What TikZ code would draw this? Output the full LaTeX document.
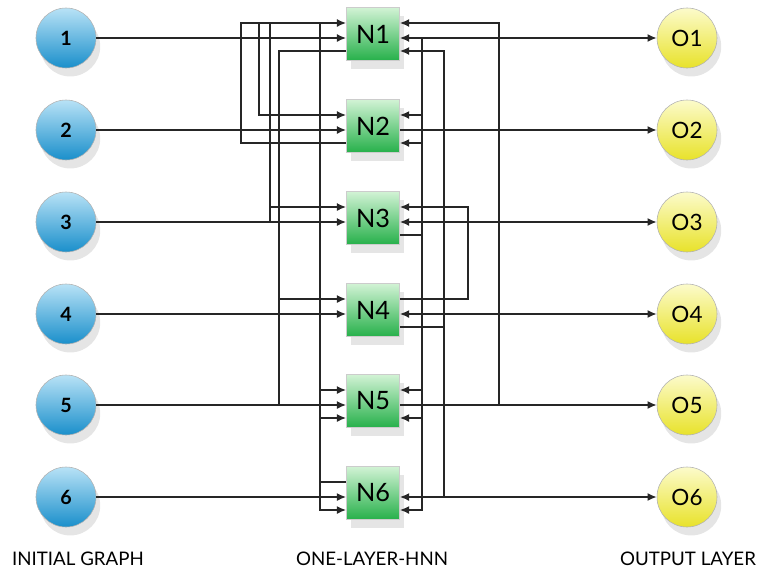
\documentclass[tikz,border=0pt]{standalone}
\usepackage{fontspec}
\setmainfont{Lato}
\usetikzlibrary{positioning,arrows.meta,calc,shadows}

\definecolor{inblue}{HTML}{1A8FCB}
\definecolor{inblueL}{HTML}{B8E2F6}
\definecolor{outyel}{HTML}{E8E22A}
\definecolor{outyelL}{HTML}{FCFBCB}
\definecolor{hidgrn}{HTML}{26B04A}
\definecolor{hidgrnL}{HTML}{D2F3D5}
\definecolor{wirec}{HTML}{262626}

\begin{document}
\begin{tikzpicture}[
  x=0.025cm, y=-0.025cm,
  softshadow/.style={drop shadow={shadow xshift=3pt, shadow yshift=-6pt, opacity=0.10, fill=black}},
  inp/.style={circle, minimum size=1.5cm, inner sep=0pt, draw=gray!60, thin,
    top color=inblueL, bottom color=inblue, softshadow,
    font=\fontsize{14}{14}\selectfont\bfseries},
  outp/.style={circle, minimum size=1.5cm, inner sep=0pt, draw=gray!60, thin,
    top color=outyelL, bottom color=outyel, softshadow,
    font=\fontsize{16}{16}\selectfont},
  hid/.style={rectangle, minimum size=1.33cm, inner sep=0pt, draw=gray!40, thin,
    top color=hidgrnL, bottom color=hidgrn, softshadow,
    font=\fontsize{18}{18}\selectfont},
  lnk/.style={line width=1.1pt, draw=wirec},
  lnkto/.style={lnk, -{Latex[length=2.3mm, width=2mm]}},
  lnkboth/.style={lnk, {Latex[length=2.3mm, width=2mm]}-{Latex[length=2.3mm, width=2mm]}},
  layername/.style={font=\fontsize{13.3}{13.3}\selectfont}
]
  \useasboundingbox (0,0) rectangle (762,573);

  % --- the three layers ---------------------------------------------------
  \foreach \i/\y in {1/38,2/130,3/222,4/314,5/405,6/497} {
    \node[inp]  (I\i) at (66,\y)    {\i};
    \node[hid]  (N\i) at (373,\y-4) {N\i};
    \node[outp] (O\i) at (687,\y)   {O\i};
    % ports above and below the main row on each side of a box
    \coordinate (N\i-lu) at ($(N\i.west)+(0,-11)$);
    \coordinate (N\i-ll) at ($(N\i.west)+(0,17)$);
    \coordinate (N\i-ru) at ($(N\i.east)+(0,-11)$);
    \coordinate (N\i-rl) at ($(N\i.east)+(0,17)$);
  }

  % --- bus columns ----------------------------------------------------------
  \coordinate (c1) at (241,0);
  \coordinate (c2) at (259,0);
  \coordinate (c3) at (270,0);
  \coordinate (c4) at (279,0);
  \coordinate (c5) at (320,0);
  \coordinate (r1) at (422,0);
  \coordinate (r2) at (444,0);
  \coordinate (r3) at (468,0);
  \coordinate (r4) at (499,0);

  % --- inputs -> hidden, hidden -> outputs ---------------------------------
  \foreach \i in {1,...,6}
    \draw[lnkto] (I\i) -- (I\i -| N\i.west);
  \foreach \i in {1,3,4,6}
    \draw[lnkboth] (O\i -| N\i.east) -- (O\i);
  \foreach \i in {2,5}
    \draw[lnkto] (O\i -| N\i.east) -- (O\i);

  % --- links on the left of the hidden layer -------------------------------
  \draw[lnkto] (N2-ll) -- (c1 |- N2-ll) -- (c1 |- N1-lu) -- (N1-lu);
  \draw[lnkto] (c2 |- N1-lu) -- (c2 |- N2-lu) -- (N2-lu);
  \draw[lnk] (c3 |- N1-lu) -- (c3 |- I3);
  \draw[lnkto] (c3 |- N3-lu) -- (N3-lu);
  \draw[lnk] (N1-ll) -- (c4 |- N1-ll) -- (c4 |- I5);
  \draw[lnkto] (c4 |- N4-lu) -- (N4-lu);
  \draw[lnkto] (c5 |- N1-lu) -- (c5 |- N6-ll) -- (N6-ll);
  \draw[lnkto] (c5 |- N5-lu) -- (N5-lu);
  \draw[lnkto] (c5 |- N5-ll) -- (N5-ll);
  \draw[lnk] (N6-lu) -- (c5 |- N6-lu);

  % --- links on the right of the hidden layer ------------------------------
  \draw[lnkto] (r1 |- O1) -- (r1 |- N6-rl) -- (N6-rl);
  \draw[lnkto] (r1 |- N2-ru) -- (N2-ru);
  \draw[lnkto] (r1 |- N2-rl) -- (N2-rl);
  \draw[lnk] (N3-rl) -- (r1 |- N3-rl);
  \draw[lnkto] (r1 |- N5-ru) -- (N5-ru);
  \draw[lnkto] (r1 |- N5-rl) -- (N5-rl);
  \draw[lnkto] (r2 |- O6) -- (r2 |- N1-rl) -- (N1-rl);
  \draw[lnk] (N4-rl) -- (r2 |- N4-rl);
  \draw[lnkto] (N4-ru) -- (r3 |- N4-ru) -- (r3 |- N3-ru) -- (N3-ru);
  \draw[lnkto] (r4 |- O5) -- (r4 |- N1-ru) -- (N1-ru);

  % --- layer names ----------------------------------------------------------
  \node[layername] (nameI) at (78,559)  {INITIAL GRAPH};
  \node[layername] (nameN) at (372,559) {ONE-LAYER-HNN};
  \node[layername] (nameO) at (688,559) {OUTPUT LAYER};
\end{tikzpicture}
\end{document}
